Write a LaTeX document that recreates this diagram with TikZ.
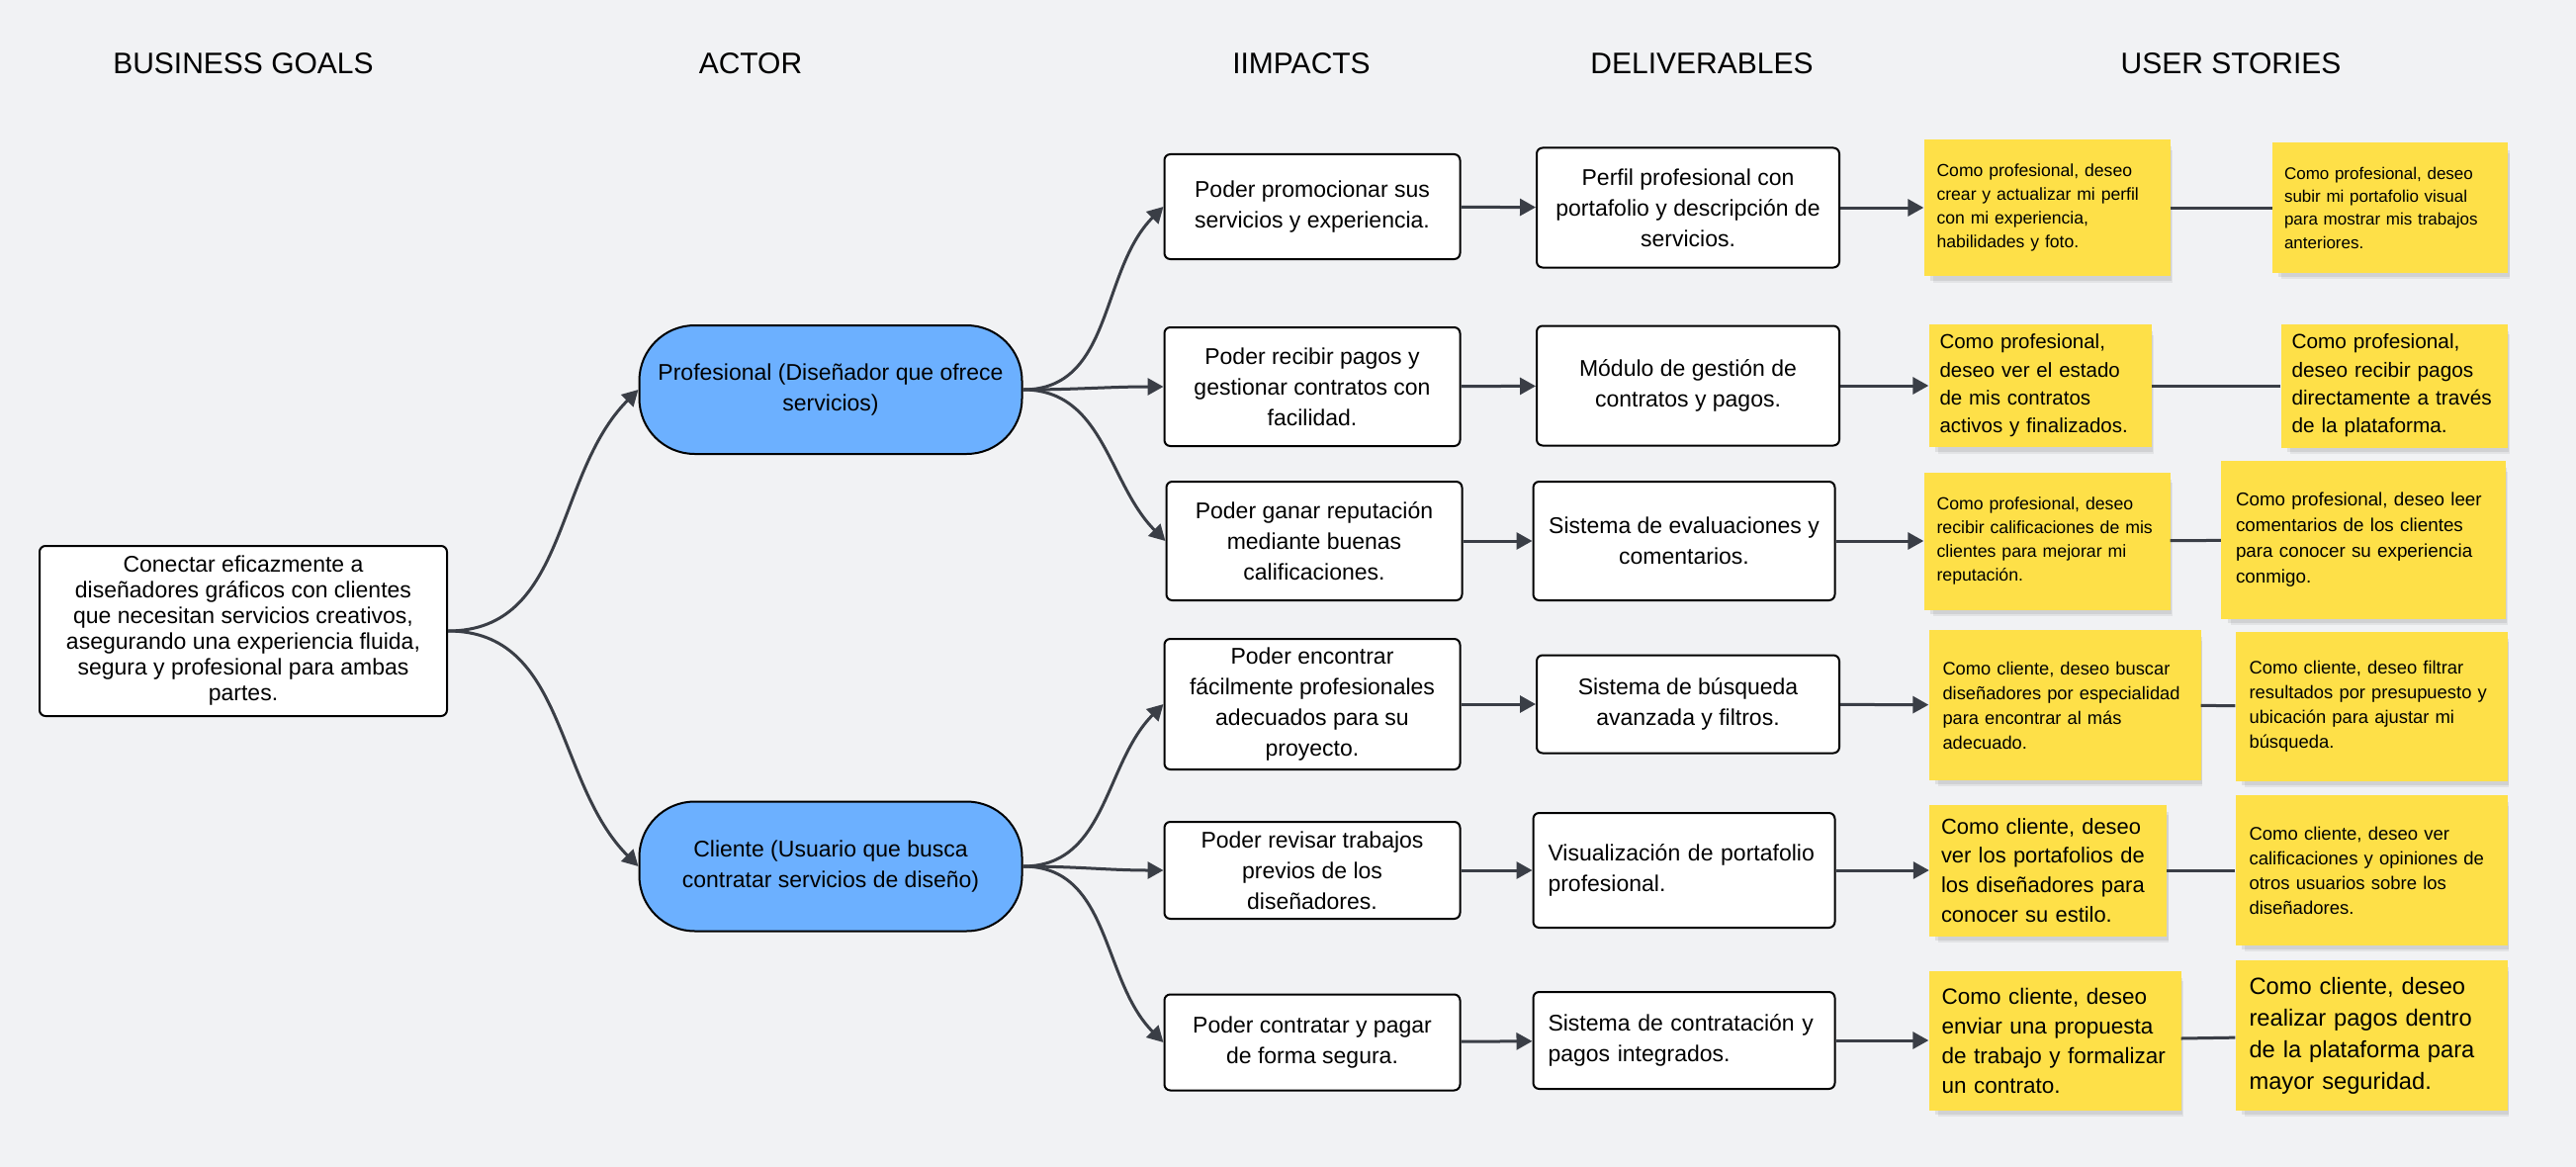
\documentclass[tikz,border=0pt]{standalone}
\usepackage{fontspec}
\setmainfont{Liberation Sans}
\usetikzlibrary{arrows.meta,shadows}
\definecolor{canvas}{RGB}{241,242,244}
\definecolor{actorblue}{RGB}{108,176,255}
\definecolor{stickyyellow}{RGB}{254,224,72}
\definecolor{linkgray}{RGB}{58,62,70}
\tikzset{
  headline/.style={font=\fontsize{30}{36}\selectfont},
  mapbox/.style={draw=black, line width=2pt, rounded corners=6pt, fill=white, align=center, font=\fontsize{23}{31}\selectfont},
  actorbox/.style={draw=black, line width=2pt, rounded corners=56pt, fill=actorblue, align=center, minimum width=387pt, minimum height=130pt, font=\fontsize{23}{31}\selectfont},
  storynote/.style={fill=stickyyellow, align=left, inner xsep=13pt,
    drop shadow={shadow xshift=6pt, shadow yshift=-9pt, shadow scale=0.97, opacity=0.06, fill=black},
    drop shadow={shadow xshift=4pt, shadow yshift=-6pt, shadow scale=0.98, opacity=0.08, fill=black}},
  mapline/.style={line width=3pt, draw=linkgray, -{Triangle[length=16pt, width=17pt]}},
  storyline/.style={line width=3pt, draw=linkgray}
}

\begin{document}
\begin{tikzpicture}[x=1pt, y=-1pt]
    \useasboundingbox (0,0) rectangle (2605,1180);
    \fill[canvas] (0,0) rectangle (2605,1180);

    % Column titles
    \node[headline] (tgoals) at (246,64) {BUSINESS GOALS};
    \node[headline] (tactor) at (759,64) {ACTOR};
    \node[headline] (timpacts) at (1316,64) {IIMPACTS};
    \node[headline] (tdeliv) at (1721,64) {DELIVERABLES};
    \node[headline] (tstories) at (2256,64) {USER STORIES};

    % Business goal
    \node[mapbox, minimum width=412pt, minimum height=172pt, font=\fontsize{23}{26}\selectfont] (goal) at (246,638) {Conectar eficazmente a\\diseñadores gráficos con clientes\\que necesitan servicios creativos,\\asegurando una experiencia fluida,\\segura y profesional para ambas\\partes.};

    % Actors
    \node[actorbox] (prof) at (840,394) {Profesional (Diseñador que ofrece\\servicios)};
    \node[actorbox, minimum height=131pt] (cli) at (840,876) {Cliente (Usuario que busca\\contratar servicios de diseño)};

    % Impacts
    \node[mapbox, minimum width=299pt, minimum height=106pt] (imp1) at (1327,209) {Poder promocionar sus\\servicios y experiencia.};
    \node[mapbox, minimum width=299pt, minimum height=120pt] (imp2) at (1327,391) {Poder recibir pagos y\\gestionar contratos con\\facilidad.};
    \node[mapbox, minimum width=299pt, minimum height=120pt] (imp3) at (1329,547) {Poder ganar reputación\\mediante buenas\\calificaciones.};
    \node[mapbox, minimum width=299pt, minimum height=132pt] (imp4) at (1327,712) {Poder encontrar\\fácilmente profesionales\\adecuados para su\\proyecto.};
    \node[mapbox, minimum width=299pt, minimum height=98pt] (imp5) at (1327,880) {Poder revisar trabajos\\previos de los\\diseñadores.};
    \node[mapbox, minimum width=299pt, minimum height=97pt] (imp6) at (1327,1054) {Poder contratar y pagar\\de forma segura.};

    % Deliverables
    \node[mapbox, minimum width=306pt, minimum height=121pt] (del1) at (1707,210) {Perfil profesional con\\portafolio y descripción de\\servicios.};
    \node[mapbox, minimum width=306pt, minimum height=121pt] (del2) at (1707,390) {Módulo de gestión de\\contratos y pagos.};
    \node[mapbox, minimum width=305pt, minimum height=120pt] (del3) at (1703,547) {Sistema de evaluaciones y\\comentarios.};
    \node[mapbox, minimum width=306pt, minimum height=99pt] (del4) at (1707,712) {Sistema de búsqueda\\avanzada y filtros.};
    \node[mapbox, align=left, text width=275pt, inner xsep=15pt, minimum height=116pt] (del5) at (1703,880) {Visualización de portafolio\\profesional.};
    \node[mapbox, align=left, text width=275pt, inner xsep=15pt, minimum height=98pt] (del6) at (1703,1052) {Sistema de contratación y\\pagos integrados.};

    % User stories, first column
    \node[storynote, text width=223pt, minimum height=138pt, font=\fontsize{17.6}{24}\selectfont] (us1a) at (2070,210) {Como profesional, deseo\\crear y actualizar mi perfil\\con mi experiencia,\\habilidades y foto.};
    \node[storynote, inner xsep=11pt, text width=203pt, minimum height=124pt, font=\fontsize{20.5}{28.3}\selectfont] (us2a) at (2063,390) {Como profesional,\\deseo ver el estado\\de mis contratos\\activos y finalizados.};
    \node[storynote, text width=223pt, minimum height=139pt, font=\fontsize{17.7}{24}\selectfont] (us3a) at (2070,547) {Como profesional, deseo\\recibir calificaciones de mis\\clientes para mejorar mi\\reputación.};
    \node[storynote, inner xsep=14pt, text width=247pt, minimum height=152pt, font=\fontsize{18.3}{25}\selectfont] (us4a) at (2088,713) {Como cliente, deseo buscar\\diseñadores por especialidad\\para encontrar al más\\adecuado.};
    \node[storynote, inner xsep=12pt, text width=216pt, minimum height=133pt, font=\fontsize{21.9}{29.7}\selectfont] (us5a) at (2071,880) {Como cliente, deseo\\ver los portafolios de\\los diseñadores para\\conocer su estilo.};
    \node[storynote, text width=229pt, minimum height=141pt, font=\fontsize{22.5}{30}\selectfont] (us6a) at (2078,1052) {Como cliente, deseo\\enviar una propuesta\\de trabajo y formalizar\\un contrato.};

    % User stories, second column
    \node[storynote, inner xsep=12pt, text width=214pt, minimum height=131pt, font=\fontsize{17}{23.3}\selectfont] (us1b) at (2417,210) {Como profesional, deseo\\subir mi portafolio visual\\para mostrar mis trabajos\\anteriores.};
    \node[storynote, inner xsep=11pt, text width=207pt, minimum height=125pt, font=\fontsize{20.8}{28.3}\selectfont] (us2b) at (2421,390) {Como profesional,\\deseo recibir pagos\\directamente a través\\de la plataforma.};
    \node[storynote, inner xsep=15pt, text width=258pt, minimum height=160pt, font=\fontsize{18.8}{26}\selectfont] (us3b) at (2390,546) {Como profesional, deseo leer\\comentarios de los clientes\\para conocer su experiencia\\conmigo.};
    \node[storynote, inner xsep=14pt, text width=247pt, minimum height=151pt, font=\fontsize{18.4}{25}\selectfont] (us4b) at (2398,714) {Como cliente, deseo filtrar\\resultados por presupuesto y\\ubicación para ajustar mi\\búsqueda.};
    \node[storynote, inner xsep=14pt, text width=247pt, minimum height=152pt, font=\fontsize{18.5}{25}\selectfont] (us5b) at (2398,880) {Como cliente, deseo ver\\calificaciones y opiniones de\\otros usuarios sobre los\\diseñadores.};
    \node[storynote, inner xsep=14pt, text width=247pt, minimum height=152pt, font=\fontsize{23.7}{32}\selectfont] (us6b) at (2398,1047) {Como cliente, deseo\\realizar pagos dentro\\de la plataforma para\\mayor seguridad.};

    % Goal to actors
    \draw[mapline] (goal.east) to[out=0, in=225] (prof.west);
    \draw[mapline] (goal.east) to[out=0, in=135] (cli.west);

    % Actors to impacts
    \draw[mapline] (prof.east) to[out=0, in=225] (imp1.west);
    \draw[mapline] (prof.east) to[out=0, in=180] (imp2.west);
    \draw[mapline] (prof.east) to[out=0, in=135] (imp3.west);
    \draw[mapline] (cli.east) to[out=0, in=225] (imp4.west);
    \draw[mapline] (cli.east) to[out=0, in=180] (imp5.west);
    \draw[mapline] (cli.east) to[out=0, in=135] (imp6.west);

    % Impacts to deliverables
    \draw[mapline] (imp1) -- (del1);
    \draw[mapline] (imp2) -- (del2);
    \draw[mapline] (imp3) -- (del3);
    \draw[mapline] (imp4) -- (del4);
    \draw[mapline] (imp5) -- (del5);
    \draw[mapline] (imp6) -- (del6);

    % Deliverables to stories
    \draw[mapline] (del1) -- (us1a);
    \draw[mapline] (del2) -- (us2a);
    \draw[mapline] (del3) -- (us3a);
    \draw[mapline] (del4) -- (us4a);
    \draw[mapline] (del5) -- (us5a);
    \draw[mapline] (del6) -- (us6a);

    % Story pairs
    \draw[storyline] (us1a) -- (us1b);
    \draw[storyline] (us2a) -- (us2b);
    \draw[storyline] (us3a) -- (us3b);
    \draw[storyline] (us4a) -- (us4b);
    \draw[storyline] (us5a) -- (us5b);
    \draw[storyline] (us6a) -- (us6b);
\end{tikzpicture}
\end{document}
